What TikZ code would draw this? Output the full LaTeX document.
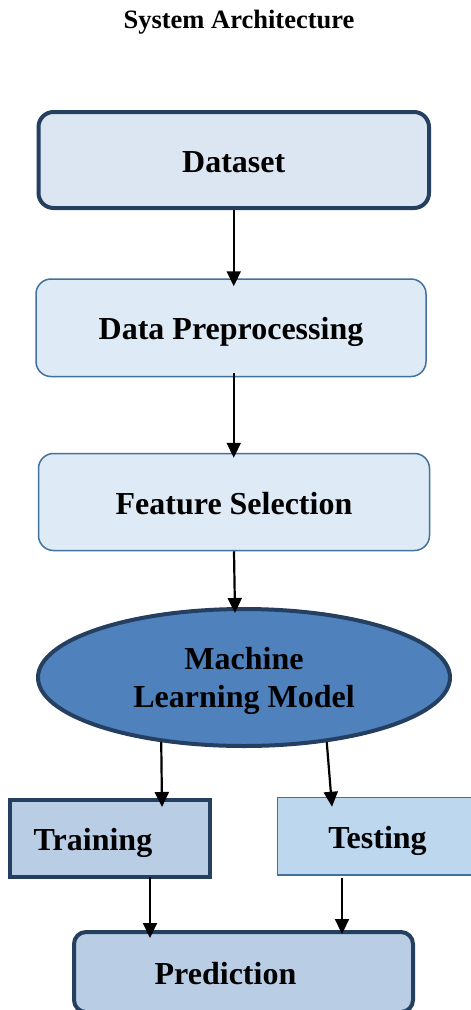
\documentclass[tikz,border=0pt]{standalone}
\usepackage{fontspec}
\setmainfont{Liberation Serif}
\usetikzlibrary{arrows.meta,shapes.geometric}
\definecolor{navy}{HTML}{243F60}
\definecolor{steel}{HTML}{41719C}
\definecolor{paleblue}{HTML}{DCE6F2}
\definecolor{lightblue}{HTML}{DEEAF6}
\definecolor{midblue}{HTML}{4F81BD}
\definecolor{greyblue}{HTML}{B9CDE5}
\definecolor{skyblue}{HTML}{BDD7EE}
\begin{document}
\begin{tikzpicture}[x=1pt, y=-1pt,
    boxfont/.style = {font=\bfseries\fontsize{32}{38}\selectfont},
    boxtext/.style = {boxfont, text height=31pt, text depth=7pt},
    heavybox/.style = {draw=navy, line width=4pt},
    lightbox/.style = {draw=steel, line width=1.5pt},
    arr/.style = {line width=2.2pt, -{Triangle[length=15pt,width=14pt]}}]
    \useasboundingbox (0,0) rectangle (471,1010);
    \node (title) at (239,22) {\bfseries\fontsize{26.5}{30}\selectfont System Architecture};
    % the flow
    \node [heavybox, boxtext, fill=paleblue, rounded corners=15pt, minimum width=390.5pt, minimum height=96pt] (ds) at (233.75,160) {Dataset};
    \node [lightbox, boxtext, fill=lightblue, rounded corners=15pt, minimum width=390pt, minimum height=97.5pt] (dp) at (231,327.75) {Data Preprocessing};
    \node [lightbox, boxtext, fill=lightblue, rounded corners=15pt, minimum width=391pt, minimum height=97pt] (fs) at (234,502) {Feature Selection};
    \node [heavybox, boxfont, ellipse, fill=midblue, align=center, text depth=0pt, minimum width=412pt, minimum height=137pt] (ml) at (244,677.5) {Machine\\Learning Model};
    \node [heavybox, fill=greyblue, minimum width=200pt, minimum height=77pt,
           label={[boxtext, xshift=-17pt]center:Training}] (tr) at (110,838.5) {};
    \node [lightbox, boxtext, fill=skyblue, minimum width=200pt, minimum height=77.5pt] (te) at (377.5,836.25) {Testing};
    \node [heavybox, fill=greyblue, rounded corners=12pt, minimum width=339pt, minimum height=80pt,
           label={[boxtext, xshift=-18pt]center:Prediction}] (pr) at (243.5,972) {};
    % connectors
    \draw [arr] (ds.south) -- ([yshift=-8pt]ds.south |- dp.north);
    \draw [arr] ([yshift=4pt]dp.south -| ds.south) -- ([yshift=-5pt]ds.south |- fs.north);
    \draw [arr] (fs.south) -- ([xshift=-9pt,yshift=-6pt]ml.north);
    \draw [arr] (ml.218) -- ([xshift=52pt,yshift=-9pt]tr.north);
    \draw [arr] (ml.322) -- ([xshift=-45.5pt,yshift=-10pt]te.north);
    \draw [arr] ([xshift=40pt,yshift=2pt]tr.south) -- ([yshift=-8pt]pr.north -| 150,0);
    \draw [arr] ([xshift=-35.5pt,yshift=-2pt]te.south) -- ([yshift=-4pt]pr.north -| 342,0);
\end{tikzpicture}
\end{document}
